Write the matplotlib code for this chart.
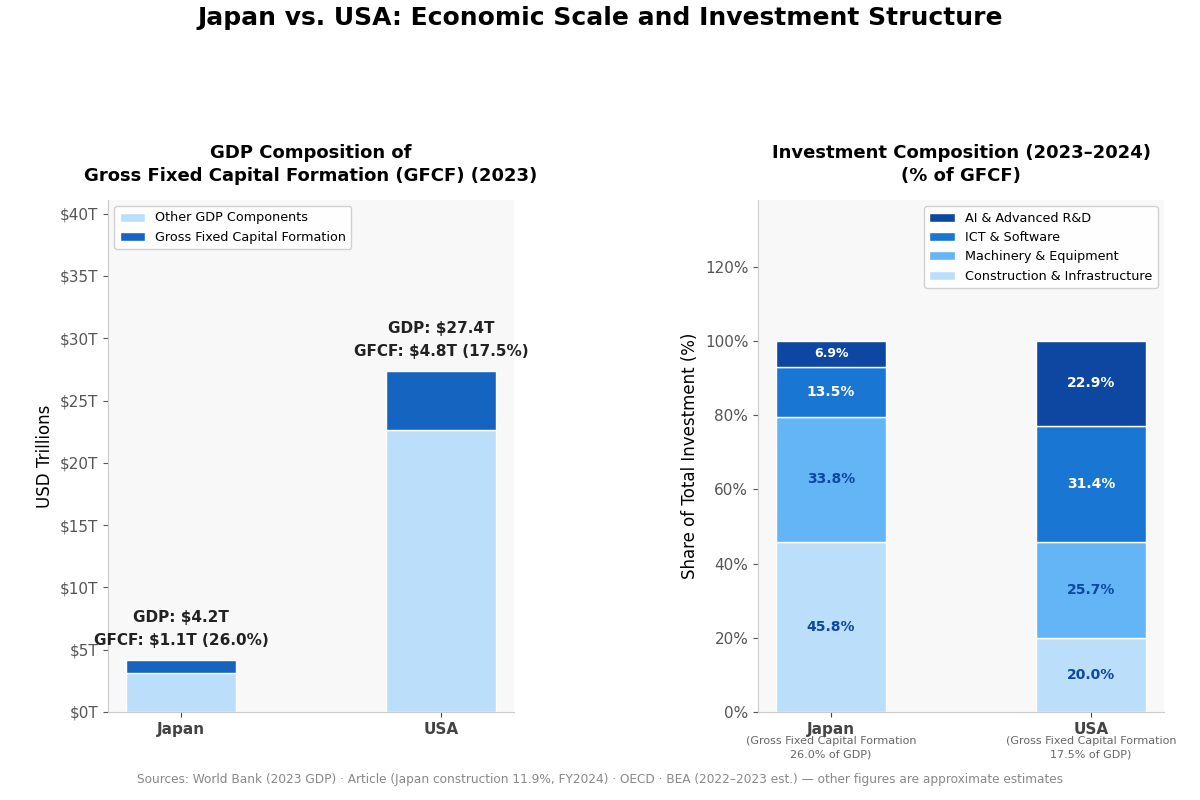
import matplotlib
matplotlib.use("Agg")
import matplotlib.pyplot as plt
import numpy as np

plt.rcParams["font.family"] = ["DejaVu Sans"]

countries = ["Japan", "USA"]
gdp = [4.2, 27.4]
gfcf = [1.1, 4.8]
gfcf_pct = [26.0, 17.5]

inv_cats = ["Construction & Infrastructure", "Machinery & Equipment", "ICT & Software", "AI & Advanced R&D"]
inv_japan = [45.8, 33.8, 13.5, 6.9]
inv_usa = [20.0, 25.7, 31.4, 22.9]

inv_colors = ["#BBDEFB", "#64B5F6", "#1976D2", "#0D47A1"]
inv_text = ["#0D47A1", "#0D47A1", "white", "white"]

fig = plt.figure(figsize=(12, 8), dpi=100)
ax1 = fig.add_axes([0.09, 0.11, 0.3383, 0.64])
ax2 = fig.add_axes([0.6317, 0.11, 0.3383, 0.64])

fig.suptitle("Japan vs. USA: Economic Scale and Investment Structure",
             fontsize=18, fontweight="bold", y=0.992)

x = np.arange(len(countries))
w = 0.42
other = [g - f for g, f in zip(gdp, gfcf)]

for ax in (ax1, ax2):
    ax.set_facecolor("#F8F8F8")
    for s in ["top", "right"]:
        ax.spines[s].set_visible(False)
    for s in ["left", "bottom"]:
        ax.spines[s].set_color("#CCCCCC")
    ax.tick_params(axis="y", labelsize=11, colors="#555555")
    ax.tick_params(axis="x", labelsize=11, colors="#444444")

# left chart
ax1.bar(x, other, w, color="#BBDEFB", edgecolor="white", linewidth=1, label="Other GDP Components")
ax1.bar(x, gfcf, w, bottom=other, color="#1565C0", edgecolor="white", linewidth=1,
        label="Gross Fixed Capital Formation")
for i in range(len(countries)):
    ax1.text(x[i], gdp[i] + 0.9, f"GFCF: ${gfcf[i]:.1f}T ({gfcf_pct[i]:.1f}%)",
             ha="center", va="bottom", fontsize=11, fontweight="bold", color="#222222")
    ax1.text(x[i], gdp[i] + 2.8, f"GDP: ${gdp[i]:.1f}T",
             ha="center", va="bottom", fontsize=11, fontweight="bold", color="#222222")
ax1.set_ylim(0, max(gdp) * 1.5)
ax1.yaxis.set_major_formatter(matplotlib.ticker.FuncFormatter(lambda v, p: f"${v:.0f}T"))
ax1.set_xticks(x)
ax1.set_xticklabels(countries, fontweight="bold")
ax1.set_ylabel("USD Trillions", fontsize=12)
ax1.set_title("GDP Composition of\nGross Fixed Capital Formation (GFCF) (2023)",
              fontsize=13, fontweight="bold", pad=14, linespacing=1.35)
ax1.legend(loc="upper left", fontsize=9.2, framealpha=0.9)

# right chart
bottoms = np.zeros(2)
for k, cat in enumerate(inv_cats):
    vals = np.array([inv_japan[k], inv_usa[k]])
    ax2.bar(x, vals, w, bottom=bottoms, color=inv_colors[k], edgecolor="white", linewidth=1, label=cat)
    for i in range(2):
        fs = 9 if vals[i] < 10 else 10
        ax2.text(x[i], bottoms[i] + vals[i] / 2, f"{vals[i]:.1f}%", ha="center", va="center",
                 fontsize=fs, fontweight="bold", color=inv_text[k])
    bottoms += vals
ax2.set_ylim(0, 138)
ax2.set_yticks([0, 20, 40, 60, 80, 100, 120])
ax2.yaxis.set_major_formatter(matplotlib.ticker.FuncFormatter(lambda v, p: f"{v:.0f}%"))
ax2.set_xticks(x)
ax2.set_xticklabels(countries, fontweight="bold")
for i in range(2):
    ax2.text(x[i], -0.047, f"(Gross Fixed Capital Formation\n{gfcf_pct[i]:.1f}% of GDP)",
             transform=ax2.get_xaxis_transform(), ha="center", va="top", fontsize=8,
             color="#666666", linespacing=1.45)
ax2.set_ylabel("Share of Total Investment (%)", fontsize=12)
ax2.set_title("Investment Composition (2023\u20132024)\n(% of GFCF)",
              fontsize=13, fontweight="bold", pad=14, linespacing=1.35)
h, l = ax2.get_legend_handles_labels()
ax2.legend(h[::-1], l[::-1], loc="upper right", fontsize=9.2, framealpha=0.9)

fig.text(0.5, 0.026, "Sources: World Bank (2023 GDP) \u00b7 Article (Japan construction 11.9%, FY2024) \u00b7 OECD \u00b7 BEA (2022\u20132023 est.) \u2014 other figures are approximate estimates",
         ha="center", va="center", fontsize=8.7, color="#888888")

fig.savefig("out.png", dpi=100)
